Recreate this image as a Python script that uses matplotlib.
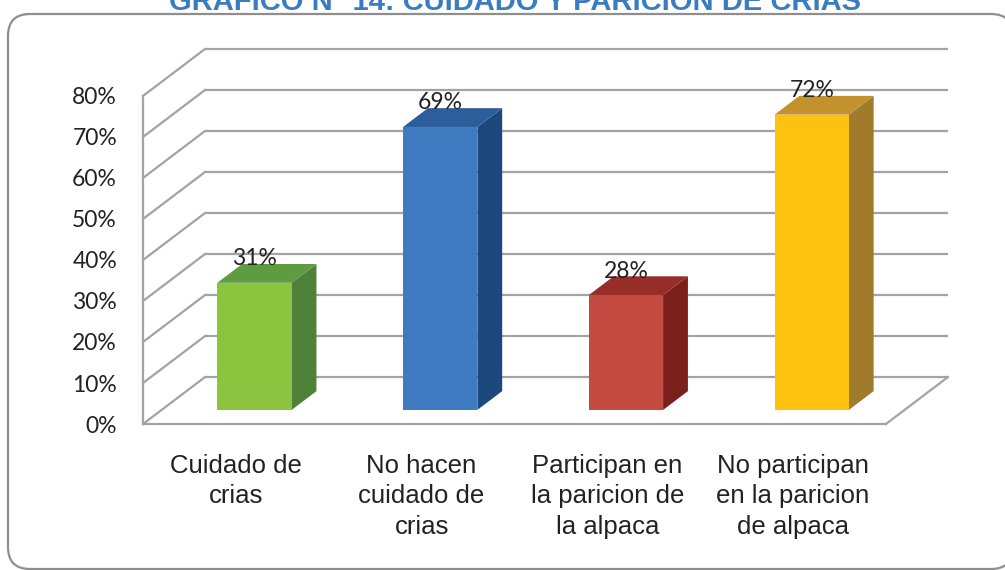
import matplotlib
matplotlib.use("Agg")
import matplotlib.pyplot as plt
from matplotlib.patches import Polygon, FancyBboxPatch

# data
categories = [
    "Cuidado de\ncrias",
    "No hacen\ncuidado de\ncrias",
    "Participan en\nla paricion de\nla alpaca",
    "No participan\nen la paricion\nde alpaca",
]
values = [31, 69, 28, 72]
value_labels = ["31%", "69%", "28%", "72%"]
ticks = [0, 10, 20, 30, 40, 50, 60, 70, 80]
tick_labels = ["0%", "10%", "20%", "30%", "40%", "50%", "60%", "70%", "80%"]
title = "GRAFICO N° 14: CUIDADO Y PARICION DE CRIAS"

# colours per bar: front, top, side
front_colors = ["#8BC53F", "#3E7BC1", "#C44B42", "#FDC20F"]
top_colors = ["#5F9B3F", "#2C5E9C", "#962D27", "#C4922C"]
side_colors = ["#4F8238", "#1B497D", "#7A1F19", "#A07B2C"]

# pseudo 3d projection (depth offset in data units)
DX = 0.334
DY = 11.46
GRID = "#A3A3A3"


def proj(x, y, d):
    return (x + d * DX, y + d * DY)


fig = plt.figure(figsize=(10.05, 5.7), dpi=100)
ax = fig.add_axes([0, 0, 1, 1])
ax.set_xlim(-0.770, 4.641)
ax.set_ylim(-35.6, 103.4)
ax.axis("off")

n = len(categories)

# back wall and side wall gridlines
for t in ticks:
    xb0, yb0 = proj(0, t, 1)
    xb1, yb1 = proj(n, t, 1)
    ax.plot([xb0, xb1], [yb0, yb1], color=GRID, lw=1.6, zorder=1,
            solid_capstyle="butt")
    xf, yf = proj(0, t, 0)
    ax.plot([xf, xb0], [yf, yb0], color=GRID, lw=1.6, zorder=1)

# floor and left edge
ax.plot([0, n], [0, 0], color=GRID, lw=1.6, zorder=1)
ax.plot([n, proj(n, 0, 1)[0]], [0, proj(n, 0, 1)[1]], color=GRID, lw=1.6, zorder=1)
ax.plot([0, 0], [0, ticks[-1]], color=GRID, lw=1.6, zorder=1)

# tick labels
for t, lab in zip(ticks, tick_labels):
    ax.text(-0.14, t, lab, ha="right", va="center_baseline", fontsize=16.5,
            family="Lato", color="#222222")

# bars
w0, w1 = 0.3, 0.7
d0, d1 = 0.3, 0.7
for i, v in enumerate(values):
    xa, xb = i + w0, i + w1
    front = [proj(xa, 0, d0), proj(xb, 0, d0), proj(xb, v, d0), proj(xa, v, d0)]
    top = [proj(xa, v, d0), proj(xb, v, d0), proj(xb, v, d1), proj(xa, v, d1)]
    side = [proj(xb, 0, d0), proj(xb, 0, d1), proj(xb, v, d1), proj(xb, v, d0)]
    ax.add_patch(Polygon(side, closed=True, fc=side_colors[i], ec="none", zorder=3))
    ax.add_patch(Polygon(top, closed=True, fc=top_colors[i], ec="none", zorder=3))
    ax.add_patch(Polygon(front, closed=True, fc=front_colors[i], ec="none", zorder=4))
    lx, _ = proj((xa + xb) / 2, v, d0)
    _, ly = proj(xa, v, d1)
    ax.text(lx, ly - 0.3, value_labels[i], ha="center", va="baseline",
            fontsize=16.5, family="Lato", color="#222222", zorder=5)

# category labels
for i, cat in enumerate(categories):
    ax.text(i + 0.5, -7.3, cat, ha="center", va="top", fontsize=18.5,
            family="Liberation Sans", color="#222222", linespacing=1.34,
            multialignment="center")

# frame
frame = fig.add_axes([0, 0, 1, 1], zorder=-1)
frame.set_xlim(0, 1005)
frame.set_ylim(570, 0)
frame.axis("off")
frame.add_patch(FancyBboxPatch((8, 14), 1005, 555,
                               boxstyle="round,pad=0,rounding_size=22",
                               fc="white", ec="#8E8E8E", lw=1.6))
ax.patch.set_alpha(0)

fig.text(0.512, 1 - 10 / 570, title, ha="center", va="baseline",
         fontsize=21, fontweight="bold", family="Liberation Sans",
         color="#3A7CC2")

fig.savefig("out.png", dpi=100)
